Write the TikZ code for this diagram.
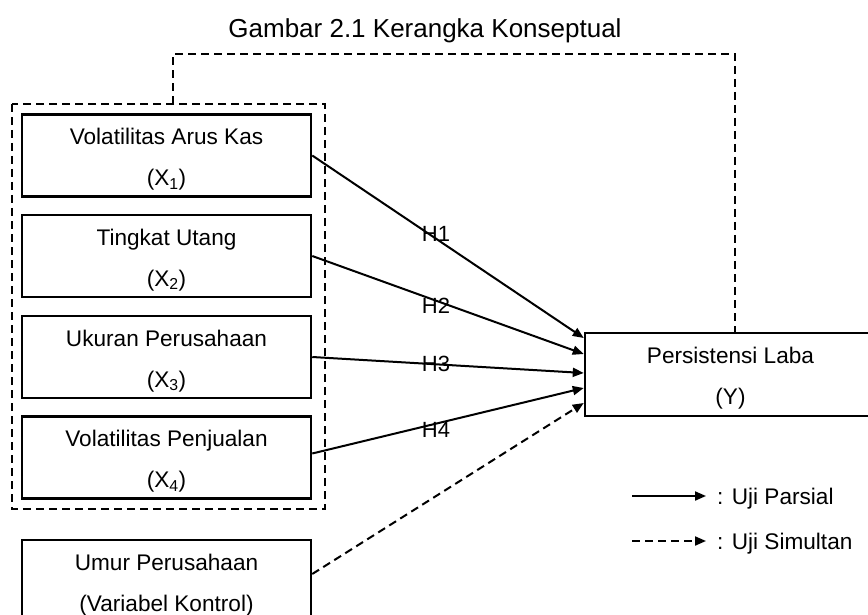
\documentclass[tikz,border=0pt]{standalone}
\usepackage{fontspec}
\setmainfont{Liberation Sans}
\usetikzlibrary{arrows.meta}
\newcommand{\toppadstrut}{\rule{0pt}{23.8pt}}
\begin{document}
\begin{tikzpicture}[x=1pt,y=-1pt,
  box/.style={draw,line width=2.5pt,minimum width=289pt,minimum height=82pt,inner sep=0pt,align=center,font=\fontsize{22.6}{41}\selectfont},
  arr/.style={line width=2pt,-{Triangle[length=11pt,width=9pt]}},
  darr/.style={arr,dash pattern=on 8pt off 5pt},
  dline/.style={line width=1.6pt,dash pattern=on 8pt off 5pt},
  lbl/.style={font=\fontsize{22}{26}\selectfont,inner sep=0pt},
  legtxt/.style={font=\fontsize{22.6}{26}\selectfont,inner sep=0pt,anchor=base west}]
\useasboundingbox (0,0) rectangle (868,615);
\clip (0,0) rectangle (868,615);

\node[font=\fontsize{26}{30}\selectfont,anchor=base,inner sep=0pt] (title) at (425,38) {Gambar 2.1 Kerangka Konseptual};

% dashed group box and link to Y
\coordinate (g1) at (12,104);
\coordinate (g2) at (325,509);
\coordinate (tab) at (173,104);
\coordinate (tabtop) at (173,54);
\draw[dline] (g1) rectangle (g2);

\node[box] (b1) at (166.5,155.5) {\toppadstrut Volatilitas Arus Kas\\(X\textsubscript{1})};
\node[box] (b2) at (166.5,256) {\toppadstrut Tingkat Utang\\(X\textsubscript{2})};
\node[box] (b3) at (166.5,357) {\toppadstrut Ukuran Perusahaan\\(X\textsubscript{3})};
\node[box] (b4) at (166.5,457.5) {\toppadstrut Volatilitas Penjualan\\(X\textsubscript{4})};
\node[box] (b5) at (166.5,581) {\toppadstrut Umur Perusahaan\\(Variabel Kontrol)};

\node[box,minimum width=291pt,minimum height=83pt] (y) at (730.5,374.5) {\toppadstrut Persistensi Laba\\(Y)};

\draw[dline] (tab) -- (tabtop) -| ([xshift=4.5pt]y.north);

\draw[arr] (b1.east) -- ([yshift=36.5pt]y.west);
\draw[arr] (b2.east) -- ([yshift=20.5pt]y.west);
\draw[arr] (b3.east) -- ([yshift=1.5pt]y.west);
\draw[arr] ([yshift=4pt]b4.east) -- ([yshift=-13.5pt]y.west);
\draw[darr] ([yshift=7pt]b5.east) -- ([yshift=-28.5pt]y.west);

\node[lbl] (h1) at (436,234) {H1};
\node[lbl] (h2) at (436,306) {H2};
\node[lbl] (h3) at (436,364) {H3};
\node[lbl] (h4) at (436,430) {H4};

% legend
\coordinate (l1s) at (632,496);
\coordinate (l1e) at (706,496);
\coordinate (l2s) at (632,541);
\coordinate (l2e) at (706,541);
\draw[arr] (l1s) -- (l1e);
\draw[darr] (l2s) -- (l2e);
\node[legtxt] (lt1) at (717,504) {: Uji Parsial};
\node[legtxt] (lt2) at (717,549) {: Uji Simultan};
\end{tikzpicture}
\end{document}
